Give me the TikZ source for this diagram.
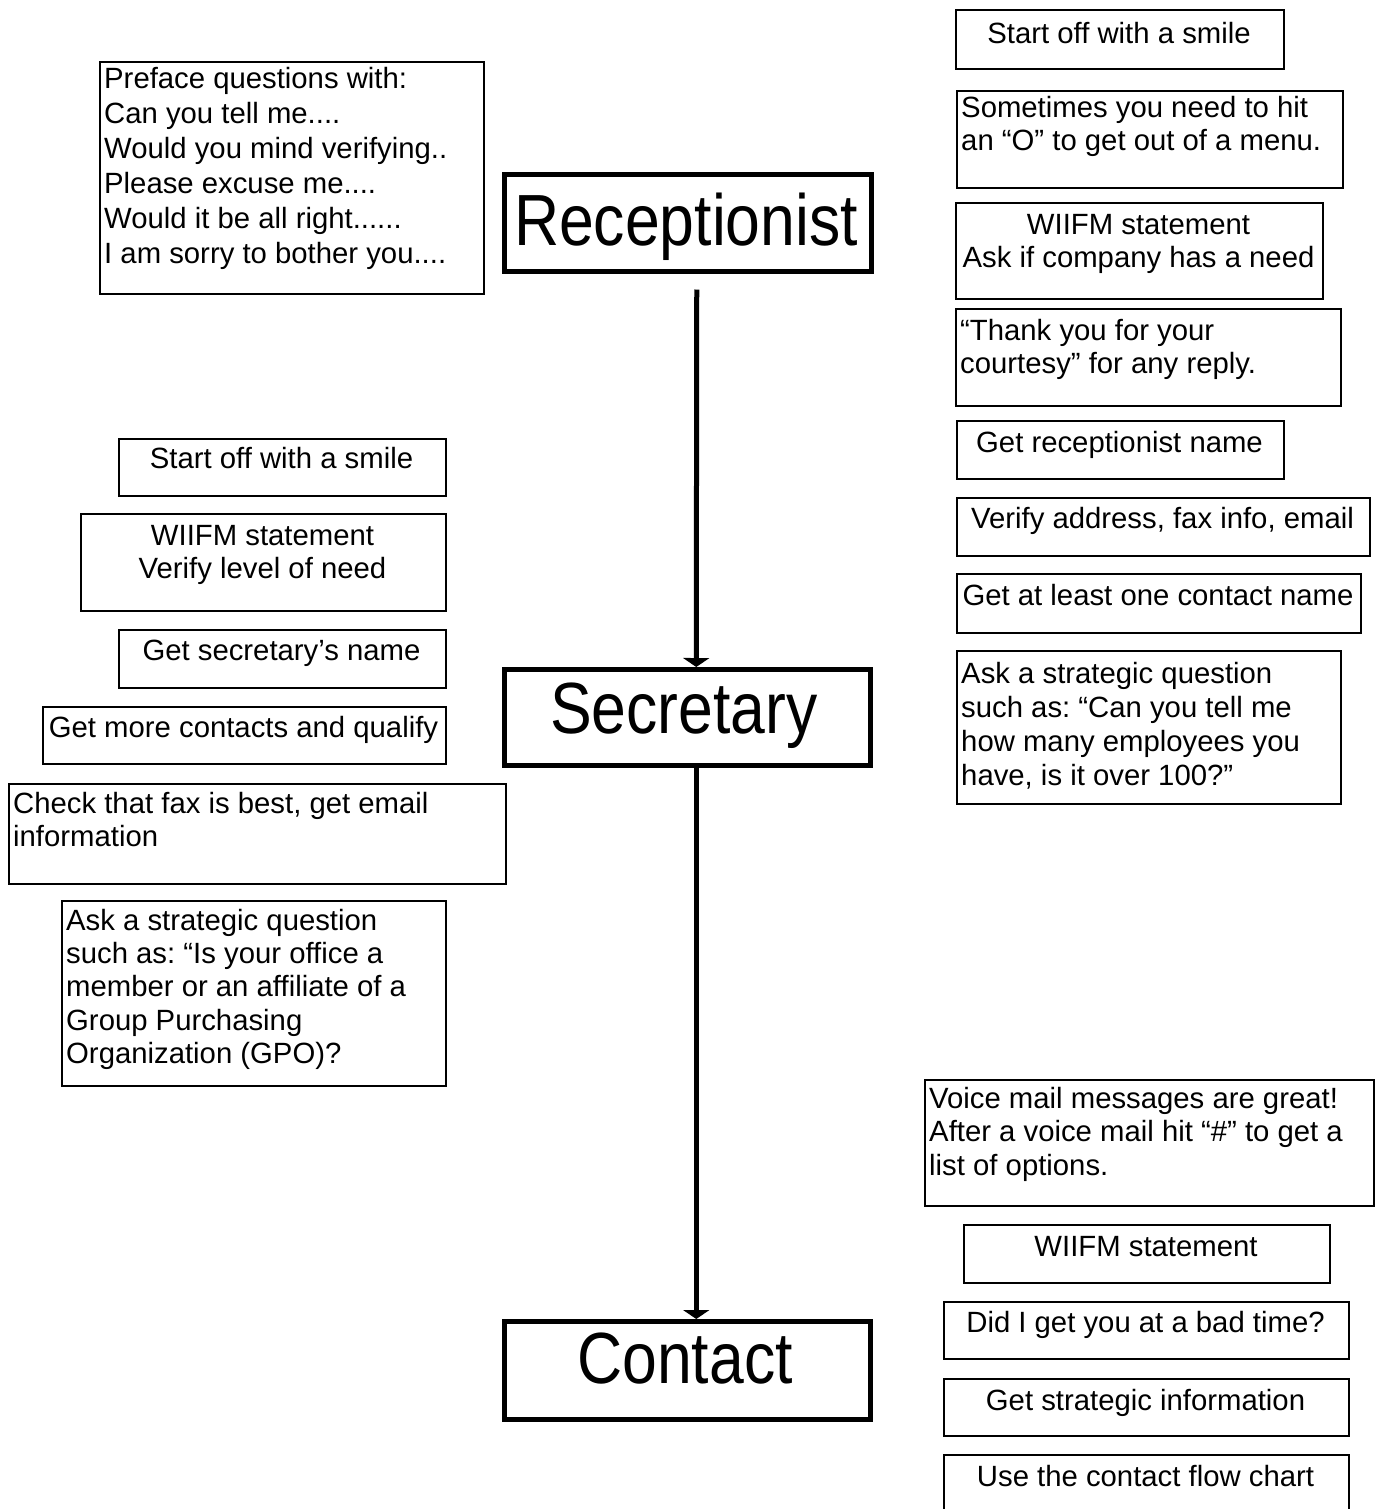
\documentclass[tikz,border=0pt]{standalone}
\usepackage{graphicx}
\usepackage{fontspec}
\setmainfont{Liberation Sans}
\usetikzlibrary{arrows.meta}
\frenchspacing

\tikzset{
  note/.style={draw=black, line width=2pt, rectangle, inner sep=0pt, anchor=north west},
  stage/.style={draw=black, line width=4.5pt, rectangle, inner sep=0pt, anchor=north west},
  txtc/.style={inner sep=0pt, align=center, anchor=north},
  txtl/.style={inner sep=0pt, align=left, anchor=north west},
  biglabel/.style={inner sep=0pt, anchor=base},
  flow/.style={line width=5pt, -{Triangle[width=26pt,length=9pt]}},
}

% box with centred text: [skip]{name}{x1}{y1}{x2}{y2}{first baseline}{text}
\newcommand\noteC[8][33.7]{%
  \node[note, minimum width={(#5)-(#3)}, minimum height={(#6)-(#4)}] (#2) at (#3,#4) {};
  \node[txtc, font=\fontsize{29.3}{#1}\selectfont] (#2-t)
    at ({((#3)+(#5))/2},{(#7)-0.7*(#1)}) {\strut #8};}
% box with left-aligned text
\newcommand\noteL[8][33.7]{%
  \node[note, minimum width={(#5)-(#3)}, minimum height={(#6)-(#4)}] (#2) at (#3,#4) {};
  \node[txtl, font=\fontsize{29.3}{#1}\selectfont] (#2-t)
    at ({(#3)+5},{(#7)-0.7*(#1)}) {\strut #8};}
% stage box with large label
\newcommand\stagebox[8]{%
  \node[stage, minimum width={(#4)-(#2)}, minimum height={(#5)-(#3)}] (#1) at (#2,#3) {};
  \node[biglabel] (#1-t) at (#7,#6)
    {\scalebox{1}[1.16]{\fontsize{62.5}{70}\selectfont #8}};}

\begin{document}
\begin{tikzpicture}[x=1pt, y=-1pt]
\useasboundingbox[fill=white] (0,0) rectangle (1378,1509);

% main stages
\stagebox{rec}{502}{172}{869}{269}{245}{686}{Receptionist}
\stagebox{sec}{502}{667}{868}{763}{733}{684}{Secretary}
\stagebox{con}{502}{1319}{868}{1417}{1383}{685}{Contact}

\draw[flow] ([xshift=9pt,yshift=-16pt]rec.south) -- ([xshift=9pt]sec.north);
\draw[flow] ([xshift=9pt]sec.south) -- ([xshift=9pt]con.north);

% receptionist tips
\noteL[35]{pre}{99}{61}{483}{293}{88}{Preface questions with:\\Can you tell me....\\Would you mind verifying..\\Please excuse me....\\Would it be all right......\\I am sorry to bother you....}

\noteC{r1}{955}{9}{1283}{68}{43}{Start off with a smile}
\noteL{r2}{956}{90}{1342}{187}{117}{Sometimes you need to hit\\an “O” to get out of a menu.}
\noteC{r3}{955}{202}{1322}{298}{234}{WIIFM statement\\Ask if company has a need}
\noteL{r4}{955}{308}{1340}{405}{340}{“Thank you for your\\courtesy” for any reply.}
\noteC{r5}{956}{420}{1283}{478}{452}{Get receptionist name}
\noteC{r6}{956}{497}{1369}{555}{528}{Verify address, fax info, email}
\noteC{r7}{956}{573}{1360}{632}{605}{Get at least one contact name}
\noteL[34]{r8}{956}{650}{1340}{803}{683}{Ask a strategic question\\such as: “Can you tell me\\how many employees you\\have, is it over 100?”}

% secretary tips
\noteC{l1}{118}{438}{445}{495}{468}{Start off with a smile}
\noteC{l2}{80}{513}{445}{610}{545}{WIIFM statement\\Verify level of need}
\noteC{l3}{118}{629}{445}{687}{660}{Get secretary’s name}
\noteC{l4}{42}{706}{445}{763}{737}{Get more contacts and qualify}
\noteL{l5}{8}{783}{505}{883}{813}{Check that fax is best, get email\\information}
\noteL[33.3]{l6}{61}{900}{445}{1085}{930}{Ask a strategic question\\such as: “Is your office a\\member or an affiliate of a\\Group Purchasing\\Organization (GPO)?}

% contact tips
\noteL[33.5]{v1}{924}{1079}{1373}{1205}{1108}{Voice mail messages are great!\\After a voice mail hit “\#” to get a\\list of options.}
\noteC{v2}{963}{1224}{1329}{1282}{1256}{WIIFM statement}
\noteC{v3}{943}{1301}{1348}{1358}{1332}{Did I get you at a bad time?}
\noteC{v4}{943}{1378}{1348}{1435}{1410}{Get strategic information}
\noteC{v5}{943}{1454}{1348}{1514}{1486}{Use the contact flow chart}
\end{tikzpicture}
\end{document}
